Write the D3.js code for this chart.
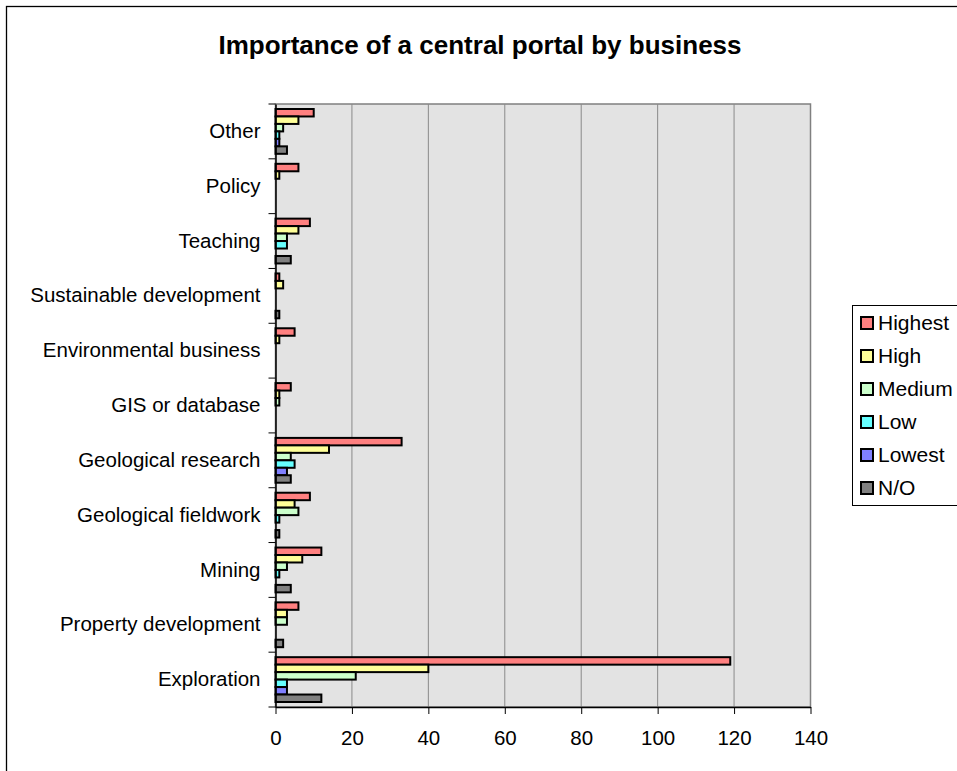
<!DOCTYPE html>
<html>
<head>
<meta charset="utf-8">
<script src="https://cdnjs.cloudflare.com/ajax/libs/d3/7.8.5/d3.min.js"></script>
<style>
  html, body { margin: 0; padding: 0; background: #fff; }
  svg { display: block; }
  text { font-family: Arial, "Liberation Sans", sans-serif; }
</style>
</head>
<body>
<svg id="chart" width="957" height="771"></svg>
<script>
// Categories (bottom to top as in the chart)
const categories = ["Exploration", "Property development", "Mining", "Geological fieldwork",
  "Geological research", "GIS or database", "Environmental business",
  "Sustainable development", "Teaching", "Policy", "Other"];
const seriesNames = ["Highest", "High", "Medium", "Low", "Lowest", "N/O"];
const highest = [119, 6, 12, 9, 33, 4, 5, 1, 9, 6, 10];
const high    = [40, 3, 7, 5, 14, 1, 1, 2, 6, 1, 6];
const medium  = [21, 3, 3, 6, 4, 1, 0, 0, 3, 0, 2];
const low     = [3, 0, 1, 1, 5, 0, 0, 0, 3, 0, 1];
const lowest  = [3, 0, 0, 0, 3, 0, 0, 0, 0, 0, 1];
const na      = [12, 2, 4, 1, 4, 0, 0, 1, 4, 0, 3];
const xTicks = [0, 20, 40, 60, 80, 100, 120, 140];
const colors = ["#FF8080", "#FFFF99", "#CCFFCC", "#66FFFF", "#8080FF", "#808080"];

const seriesValues = [highest, high, medium, low, lowest, na];

const svg = d3.select("#chart");
const L = 275.5, R = 810.5, T = 104, B = 707;

// outer border
svg.append("rect").attr("x", 6.5).attr("y", 6.5).attr("width", 1000).attr("height", 1000)
  .attr("fill", "#fff").attr("stroke", "#000").attr("stroke-width", 1.3);

// title
svg.append("text").attr("x", 480).attr("y", 54).attr("text-anchor", "middle")
  .attr("font-size", 26).attr("font-weight", "bold").attr("fill", "#000")
  .text("Importance of a central portal by business");

const x = d3.scaleLinear().domain([0, 140]).range([L, R]);
const y = d3.scaleBand().domain(categories.slice().reverse()).range([T, B]);
const inner = d3.scaleBand().domain(seriesNames).range([5, y.bandwidth() - 5]);

// plot background
svg.append("rect").attr("x", L).attr("y", T).attr("width", R - L).attr("height", B - T)
  .attr("fill", "#E3E3E3").attr("stroke", "#808080").attr("stroke-width", 1.5);

// gridlines
svg.append("g").selectAll("line").data(xTicks.filter(d => d > 0 && d < 140)).join("line")
  .attr("x1", d => x(d)).attr("x2", d => x(d)).attr("y1", T).attr("y2", B)
  .attr("stroke", "#8a8a8a").attr("stroke-width", 1);

// bars
const groups = svg.append("g").selectAll("g").data(categories).join("g")
  .attr("transform", d => `translate(0,${y(d)})`);
groups.each(function(cat, ci) {
  d3.select(this).selectAll("rect").data(seriesNames.map((s, si) => ({s, si, v: seriesValues[si][ci]})))
    .join("rect")
    .filter(d => d.v > 0)
    .attr("x", x(0))
    .attr("y", d => inner(d.s))
    .attr("width", d => x(d.v) - x(0))
    .attr("height", inner.bandwidth())
    .attr("fill", d => colors[d.si])
    .attr("stroke", "#000").attr("stroke-width", 2);
});

// x axis
const xAxis = d3.axisBottom(x).tickValues(xTicks).tickSize(7).tickSizeOuter(0).tickPadding(16);
const gx = svg.append("g").attr("transform", `translate(0,${B})`).call(xAxis);
gx.select(".domain").attr("stroke", "#000").attr("stroke-width", 1.5);
gx.selectAll(".tick line").attr("stroke", "#000");
gx.selectAll(".tick text").attr("font-size", 20.5).attr("fill", "#000")
  .attr("font-family", "Arial, 'Liberation Sans', sans-serif");

// y axis
const yAxis = d3.axisLeft(y).tickSize(0).tickPadding(15);
const gy = svg.append("g").attr("transform", `translate(${L},0)`).call(yAxis);
gy.select(".domain").attr("stroke", "#000").attr("stroke-width", 1.5);
gy.selectAll(".tick text").attr("font-size", 20.5).attr("fill", "#000")
  .attr("font-family", "Arial, 'Liberation Sans', sans-serif");
// band boundary ticks
const bounds = categories.map(c => y(c)).concat([B]);
svg.append("g").selectAll("line").data(bounds).join("line")
  .attr("x1", L - 7).attr("x2", L).attr("y1", d => d).attr("y2", d => d)
  .attr("stroke", "#000").attr("stroke-width", 1);

// legend
const lg = svg.append("g");
lg.append("rect").attr("x", 852.5).attr("y", 305.5).attr("width", 200).attr("height", 200)
  .attr("fill", "#fff").attr("stroke", "#000").attr("stroke-width", 1);
const items = lg.selectAll("g.item").data(seriesNames).join("g").attr("class", "item")
  .attr("transform", (d, i) => `translate(0,${323 + i * 33})`);
items.append("rect").attr("x", 861).attr("y", -6).attr("width", 12).attr("height", 12)
  .attr("fill", (d, i) => colors[i]).attr("stroke", "#000").attr("stroke-width", 2);
items.append("text").attr("x", 878).attr("y", 7).attr("font-size", 21).attr("fill", "#000")
  .text(d => d);
</script>
</body>
</html>
